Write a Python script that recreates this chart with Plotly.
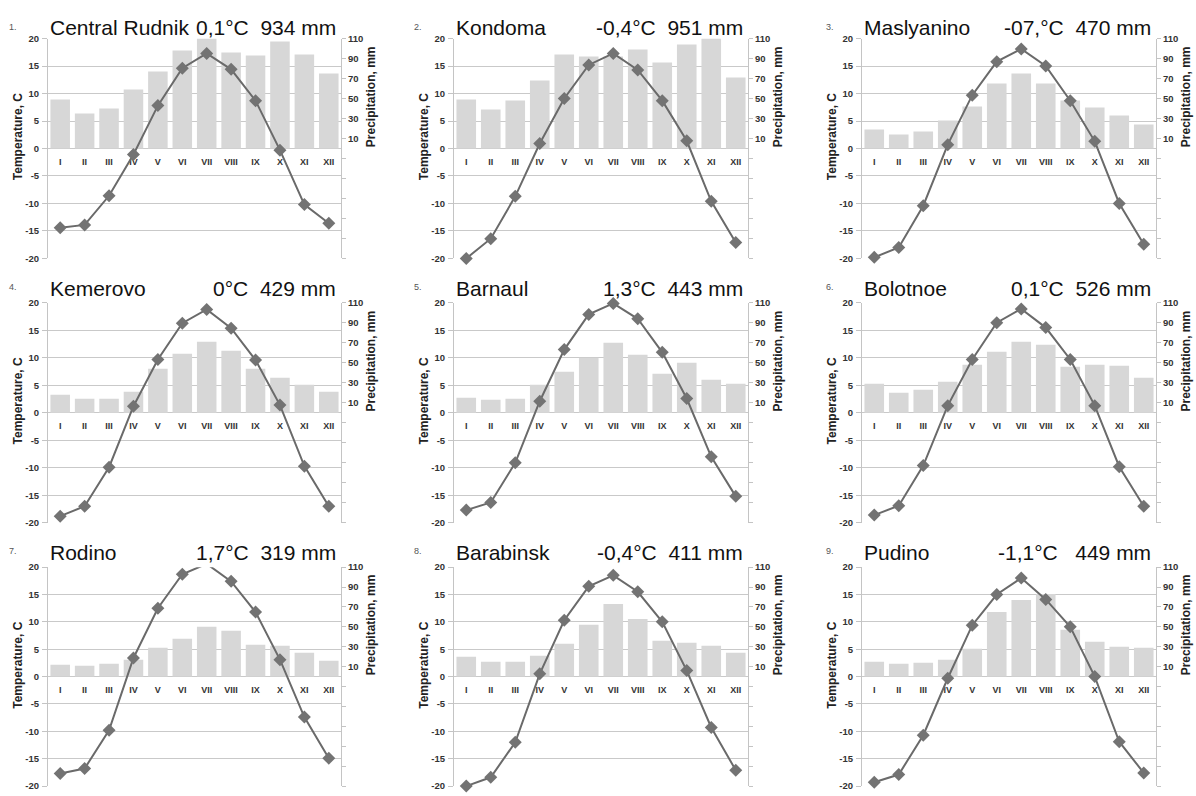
import plotly.graph_objects as go

W, H = 1196, 796
FONT = "Liberation Sans, Arial, sans-serif"

months = ["I", "II", "III", "IV", "V", "VI", "VII", "VIII", "IX", "X", "XI", "XII"]
month_pos = list(range(1, 13))

station_names = ["Central Rudnik", "Kondoma", "Maslyanino", "Kemerovo", "Barnaul",
                 "Bolotnoe", "Rodino", "Barabinsk", "Pudino"]
station_summary = ["0,1°C  934 mm", "-0,4°C  951 mm", "-07,°C  470 mm", "0°C  429 mm",
                   "1,3°C  443 mm", "0,1°C  526 mm", "1,7°C  319 mm", "-0,4°C  411 mm",
                   "-1,1°C   449 mm"]
panel_numbers = ["1.", "2.", "3.", "4.", "5.", "6.", "7.", "8.", "9."]

temp_central_rudnik = [-14.4, -13.9, -8.6, -1.1, 7.8, 14.6, 17.3, 14.4, 8.7, -0.3, -10.2, -13.6]
precip_central_rudnik = [49, 35, 40, 59, 77, 98, 110, 96, 93, 107, 94, 75]

temp_kondoma = [-20.0, -16.4, -8.7, 0.9, 9.1, 15.2, 17.3, 14.3, 8.7, 1.4, -9.6, -17.1]
precip_kondoma = [49, 39, 48, 68, 94, 92, 92, 99, 86, 104, 110, 71]

temp_maslyanino = [-19.8, -18.0, -10.4, 0.7, 9.7, 15.8, 18.1, 15.0, 8.7, 1.3, -10.0, -17.4]
precip_maslyanino = [19, 14, 17, 28, 42, 65, 75, 65, 48, 41, 33, 24]

temp_kemerovo = [-18.8, -17.0, -9.9, 1.2, 9.7, 16.3, 18.8, 15.4, 9.6, 1.4, -9.7, -17.0]
precip_kemerovo = [18, 14, 14, 21, 44, 59, 71, 62, 44, 35, 28, 21]

temp_barnaul = [-17.7, -16.3, -9.1, 2.1, 11.5, 17.9, 19.9, 17.1, 11.0, 2.6, -8.0, -15.2]
precip_barnaul = [15, 13, 14, 28, 41, 55, 70, 58, 39, 50, 33, 29]

temp_bolotnoe = [-18.6, -16.9, -9.6, 1.3, 9.7, 16.4, 18.9, 15.5, 9.7, 1.3, -9.8, -17.0]
precip_bolotnoe = [29, 20, 23, 31, 48, 61, 71, 68, 46, 48, 47, 35]

temp_rodino = [-17.7, -16.8, -9.8, 3.4, 12.5, 18.7, 20.6, 17.4, 11.8, 3.1, -7.4, -14.9]
precip_rodino = [12, 11, 13, 17, 29, 38, 50, 46, 32, 31, 24, 16]

temp_barabinsk = [-20.0, -18.4, -12.0, 0.5, 10.3, 16.5, 18.5, 15.5, 10.0, 1.1, -9.3, -17.1]
precip_barabinsk = [20, 15, 15, 21, 33, 52, 73, 58, 36, 34, 31, 24]

temp_pudino = [-19.3, -17.9, -10.7, -0.3, 9.4, 15.0, 18.0, 14.1, 9.1, 0.0, -11.9, -17.6]
precip_pudino = [15, 13, 14, 17, 28, 65, 77, 83, 47, 35, 30, 29]

temperatures = [temp_central_rudnik, temp_kondoma, temp_maslyanino, temp_kemerovo, temp_barnaul,
                temp_bolotnoe, temp_rodino, temp_barabinsk, temp_pudino]
precipitations = [precip_central_rudnik, precip_kondoma, precip_maslyanino, precip_kemerovo,
                  precip_barnaul, precip_bolotnoe, precip_rodino, precip_barabinsk, precip_pudino]

temp_ticks = [-20, -15, -10, -5, 0, 5, 10, 15, 20]
temp_ticktext = [f"<b>{v}</b>" for v in temp_ticks]
precip_ticks = [-110, -90, -70, -50, -30, -10, 10, 30, 50, 70, 90, 110]
precip_ticktext = [f"<b>{v}</b>" if v > 0 else "" for v in precip_ticks]
month_text = [f"<b>{m}</b>" for m in months]

# layout geometry (pixels)
col_left = [48, 454, 862]
col_right = [341, 748, 1156]
row_top = [33, 301, 569]
row_bot = [256, 524, 791]
title_y = [22, 286, 554]
num_x = [13, 418, 830]


def px(x):
    return x / W


def py(y):
    return 1 - y / H


fig = go.Figure()
layout = dict(
    width=W, height=H, margin=dict(l=0, r=0, t=0, b=0),
    paper_bgcolor="white", plot_bgcolor="white", showlegend=False,
    font=dict(family=FONT, color="#333333"),
)
annotations = []

for i in range(9):
    r, c = divmod(i, 3)
    n = i + 1
    xa = "x" if n == 1 else f"x{n}"
    ya_p = "y" if n == 1 else f"y{2 * n - 1}"
    ya_t = f"y{2 * n}"
    xkey = "xaxis" if n == 1 else f"xaxis{n}"
    ypkey = "yaxis" if n == 1 else f"yaxis{2 * n - 1}"
    ytkey = f"yaxis{2 * n}"

    xd = [px(col_left[c]), px(col_right[c])]
    yd = [py(row_bot[r]), py(row_top[r])]

    layout[xkey] = dict(domain=xd, range=[0.5, 12.5], showticklabels=False, showgrid=False,
                        zeroline=False, showline=False, ticks="", anchor=ya_p)
    layout[ypkey] = dict(domain=yd, range=[-110, 110], side="right", anchor=xa,
                         tickmode="array", tickvals=precip_ticks, ticktext=precip_ticktext,
                         showgrid=False, zeroline=False, showline=True, linecolor="#c4c4c4",
                         ticks="outside", ticklen=4, tickcolor="#c4c4c4", ticklabelstandoff=0,
                         tickfont=dict(size=9.5, family=FONT, color="#333333"))
    layout[ytkey] = dict(domain=yd, range=[-20, 20], side="left", anchor=xa,
                         overlaying=ya_p, tickmode="array", tickvals=temp_ticks,
                         ticktext=temp_ticktext,
                         showgrid=True, gridcolor="#c9c9c9", gridwidth=1,
                         zeroline=False, showline=True, linecolor="#c4c4c4",
                         ticks="outside", ticklen=5, tickcolor="#c4c4c4", ticklabelstandoff=1,
                         tickfont=dict(size=9.5, family=FONT, color="#333333"))

    fig.add_trace(go.Bar(x=month_pos, y=precipitations[i], xaxis=xa, yaxis=ya_p,
                         marker=dict(color="#d7d7d7", line=dict(width=0)), width=0.8,
                         hoverinfo="skip"))
    fig.add_trace(go.Scatter(x=month_pos, y=[-2.6] * 12, xaxis=xa, yaxis=ya_t, mode="text",
                             text=month_text, textfont=dict(size=9, family=FONT, color="#333333"),
                             hoverinfo="skip", cliponaxis=False))
    fig.add_trace(go.Scatter(x=month_pos, y=temperatures[i], xaxis=xa, yaxis=ya_t,
                             mode="lines+markers", cliponaxis=False,
                             line=dict(color="#6a6a6a", width=2),
                             marker=dict(symbol="diamond", size=10, color="#737373"),
                             hoverinfo="skip"))

    # titles
    annotations.append(dict(text=station_names[i], x=px(col_left[c]), y=py(title_y[r]),
                            xref="paper", yref="paper", xanchor="left", yanchor="middle",
                            showarrow=False, font=dict(size=21, family=FONT, color="#111111")))
    annotations.append(dict(text=station_summary[i].replace(" ", "\u00a0"),
                            x=px(col_right[c] - 3), y=py(title_y[r]),
                            xref="paper", yref="paper", xanchor="right", yanchor="middle",
                            showarrow=False, font=dict(size=21, family=FONT, color="#111111")))
    annotations.append(dict(text=panel_numbers[i], x=px(num_x[c]), y=py(title_y[r] - 1),
                            xref="paper", yref="paper", xanchor="center", yanchor="middle",
                            showarrow=False, font=dict(size=9, family=FONT, color="#555555")))
    # axis titles
    annotations.append(dict(text="<b>Temperature, C</b>", x=px(col_left[c] - 30),
                            y=py(row_top[r] + 100), xref="paper", yref="paper",
                            xanchor="center", yanchor="middle", textangle=-90, showarrow=False,
                            font=dict(size=12, family=FONT, color="#222222")))
    annotations.append(dict(text="<b>Precipitation, mm</b>", x=px(col_right[c] + 30),
                            y=py((row_top[r] + row_bot[r]) / 2 - 52), xref="paper", yref="paper",
                            xanchor="center", yanchor="middle", textangle=-90, showarrow=False,
                            font=dict(size=12, family=FONT, color="#222222")))

layout["annotations"] = annotations
layout["bargap"] = 0.18
fig.update_layout(**layout)
fig.write_html("out.html", config={"displayModeBar": False},
               post_script="document.body.style.margin='0';document.body.style.overflow='hidden';")
